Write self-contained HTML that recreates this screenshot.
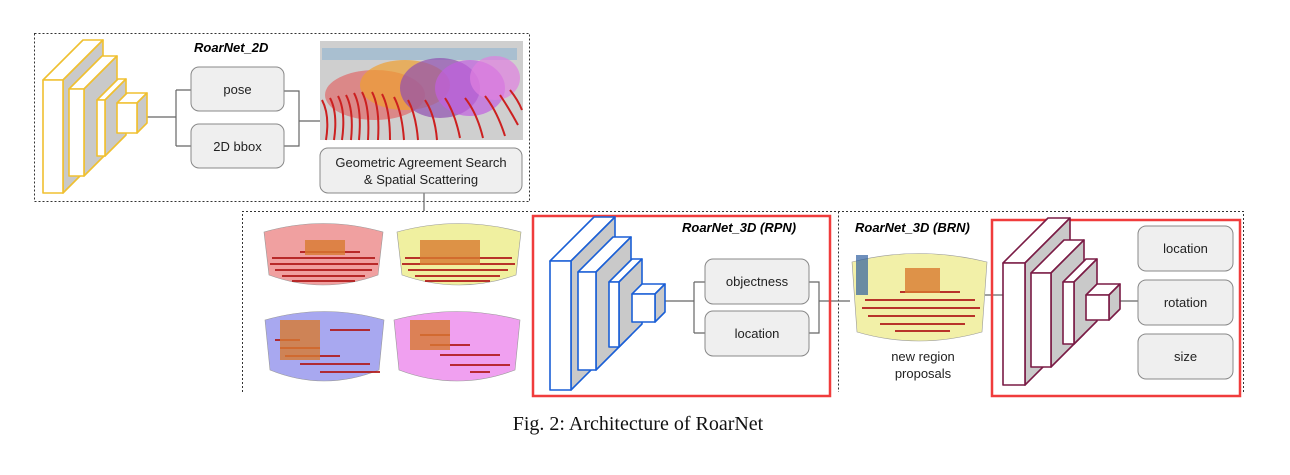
<!DOCTYPE html>
<html><head><meta charset="utf-8"><style>
html,body{margin:0;padding:0;background:#fff}
svg{display:block}
text{font-family:"Liberation Sans",sans-serif}
</style></head><body>
<svg width="1290" height="475" viewBox="0 0 1290 475" xmlns="http://www.w3.org/2000/svg">
<!-- dashed frames -->
<g fill="none" stroke="#333" stroke-width="1" stroke-dasharray="2,2">
<rect x="34.5" y="33.5" width="495" height="168"/>
<path d="M242.5,392 V211.5 H1243.5 V392"/>
<path d="M838.5,211.5 V392"/>
</g>
<!-- Top connectors -->
<g stroke="#666" stroke-width="1.2" fill="none">
<path d="M147,117 H176 M176,90 V146 M176,90 H191 M176,146 H191"/>
<path d="M284,91 H299 V146 H284 M299,121 H320"/>
<path d="M424,193 V211"/>
<path d="M665,301 H694 M694,282 V333 M694,282 H705 M694,333 H705"/>
<path d="M809,282 H819 V333 H809 M819,301 H850"/>
<path d="M985,295 H1003 M1120,301 H1141"/>
</g>
<!-- Yellow cuboids -->
<g stroke="#f0c030" stroke-width="1.6" stroke-linejoin="round">
<polygon points="43,80 83,40 103,40 63,80" fill="#fff"/><polygon points="63,80 103,40 103,153 63,193" fill="#c9c9c9"/><rect x="43" y="80" width="20" height="113" fill="#fff"/>
<polygon points="69,89 102,56 117,56 84,89" fill="#fff"/><polygon points="84,89 117,56 117,143 84,176" fill="#c9c9c9"/><rect x="69" y="89" width="15" height="87" fill="#fff"/>
<polygon points="97,100 118,79 126,79 105,100" fill="#fff"/><polygon points="105,100 126,79 126,135 105,156" fill="#c9c9c9"/><rect x="97" y="100" width="8" height="56" fill="#fff"/>
<polygon points="117,103 127,93 147,93 137,103" fill="#fff"/><polygon points="137,103 147,93 147,123 137,133" fill="#c9c9c9"/><rect x="117" y="103" width="20" height="30" fill="#fff"/>
</g>
<!-- Top boxes -->
<g fill="#efefef" stroke="#888" stroke-width="1">
<rect x="191" y="67" width="93" height="44" rx="8"/>
<rect x="191" y="124" width="93" height="44" rx="8"/>
<rect x="320" y="148" width="202" height="45" rx="8"/>
</g>
<text x="194" y="52" font-size="13" font-weight="bold" font-style="italic">RoarNet_2D</text>
<text x="237.5" y="94" font-size="13" text-anchor="middle" fill="#222">pose</text>
<text x="237.5" y="151" font-size="13" text-anchor="middle" fill="#222">2D bbox</text>
<text x="421" y="167" font-size="13" text-anchor="middle" fill="#222">Geometric Agreement Search</text>
<text x="421" y="184" font-size="13" text-anchor="middle" fill="#222">&amp; Spatial Scattering</text>
<!-- Top image -->
<g>
<rect x="320" y="41" width="203" height="99" fill="#cfcfcf"/>
<rect x="322" y="48" width="195" height="12" fill="#8fb4d0" opacity="0.6"/>
<ellipse cx="375" cy="95" rx="50" ry="25" fill="#e06a6a" opacity="0.7"/>
<ellipse cx="405" cy="85" rx="45" ry="25" fill="#f0a030" opacity="0.7"/>
<ellipse cx="440" cy="88" rx="40" ry="30" fill="#9050b0" opacity="0.7"/>
<ellipse cx="470" cy="88" rx="35" ry="28" fill="#c060e0" opacity="0.7"/>
<ellipse cx="495" cy="78" rx="25" ry="22" fill="#e080e0" opacity="0.7"/>
<g stroke="#cc2020" stroke-width="2" fill="none">
<path d="M322,100 q8,15 4,40 M330,98 q8,15 4,42 M338,96 q8,15 4,44 M346,95 q8,15 5,45 M354,93 q8,15 5,47 M362,92 q8,15 6,48 M372,92 q8,15 6,48 M382,94 q8,15 8,46 M394,97 q8,15 10,43 M408,100 q8,15 10,40 M425,100 q10,15 12,40 M445,98 q10,15 15,40 M465,98 q12,15 18,40 M485,96 q12,15 20,40 M500,95 q10,15 18,30 M510,90 q8,10 12,20"/>
</g>
</g>
<!-- Cylinders -->
<g stroke="#999" stroke-width="0.6">
<path d="M264,232 Q323,215 383,232 L378,275 Q323,295 269,275 Z" fill="#f0a0a0"/>
<path d="M397,232 Q459,215 521,232 L516,275 Q459,295 402,275 Z" fill="#f0f0a0"/>
<path d="M265,320 Q324,303 384,320 L379,370 Q324,392 270,370 Z" fill="#a8a8f0"/>
<path d="M394,320 Q457,303 520,320 L515,370 Q457,392 399,370 Z" fill="#f0a0f0"/>
<path d="M852,262 Q918,245 987,262 L982,332 Q918,350 857,332 Z" fill="#f2f0a8"/>
</g>
<g stroke="#b01818" stroke-width="1.8">
<path d="M272,258 H375 M270,264 H378 M275,270 H372 M282,276 H365 M292,281 H355 M300,252 H360"/>
<path d="M405,258 H512 M402,264 H515 M408,270 H508 M415,276 H500 M425,281 H490"/>
<path d="M275,340 H300 M280,348 H320 M285,356 H340 M300,364 H370 M320,372 H380 M330,330 H370"/>
<path d="M430,345 H470 M440,355 H500 M450,365 H510 M420,335 H450 M470,372 H490"/>
<path d="M865,300 H975 M862,308 H980 M868,316 H975 M880,324 H965 M895,331 H950 M900,292 H960"/>
</g>
<g fill="#d87a30" opacity="0.8">
<rect x="305" y="240" width="40" height="15"/>
<rect x="420" y="240" width="60" height="25"/>
<rect x="280" y="320" width="40" height="40"/>
<rect x="410" y="320" width="40" height="30"/>
<rect x="905" y="268" width="35" height="25"/>
</g>
<rect x="856" y="255" width="12" height="40" fill="#3060a0" opacity="0.7"/>
<!-- RPN red box -->
<rect x="533" y="216" width="297" height="180" fill="none" stroke="#f03c3c" stroke-width="2.5"/>
<g stroke="#1a5fd6" stroke-width="1.6" stroke-linejoin="round">
<polygon points="550,261 594,217 615,217 571,261" fill="#fff"/><polygon points="571,261 615,217 615,346 571,390" fill="#c9c9c9"/><rect x="550" y="261" width="21" height="129" fill="#fff"/>
<polygon points="578,272 613,237 631,237 596,272" fill="#fff"/><polygon points="596,272 631,237 631,335 596,370" fill="#c9c9c9"/><rect x="578" y="272" width="18" height="98" fill="#fff"/>
<polygon points="609,282 632,259 642,259 619,282" fill="#fff"/><polygon points="619,282 642,259 642,324 619,347" fill="#c9c9c9"/><rect x="609" y="282" width="10" height="65" fill="#fff"/>
<polygon points="632,294 642,284 665,284 655,294" fill="#fff"/><polygon points="655,294 665,284 665,312 655,322" fill="#c9c9c9"/><rect x="632" y="294" width="23" height="28" fill="#fff"/>
</g>
<g fill="#efefef" stroke="#888" stroke-width="1">
<rect x="705" y="259" width="104" height="45" rx="8"/>
<rect x="705" y="311" width="104" height="45" rx="8"/>
</g>
<text x="682" y="232" font-size="13" font-weight="bold" font-style="italic">RoarNet_3D (RPN)</text>
<text x="757" y="286" font-size="13" text-anchor="middle" fill="#222">objectness</text>
<text x="757" y="338" font-size="13" text-anchor="middle" fill="#222">location</text>
<!-- BRN -->
<text x="855" y="232" font-size="13" font-weight="bold" font-style="italic">RoarNet_3D (BRN)</text>
<text x="923" y="361" font-size="13" text-anchor="middle" fill="#222">new region</text>
<text x="923" y="378" font-size="13" text-anchor="middle" fill="#222">proposals</text>
<rect x="992" y="220" width="248" height="176" fill="none" stroke="#f03c3c" stroke-width="2.5"/>
<g stroke="#7a1b45" stroke-width="1.6" stroke-linejoin="round">
<polygon points="1003,263 1048,218 1070,218 1025,263" fill="#fff"/><polygon points="1025,263 1070,218 1070,340 1025,385" fill="#c9c9c9"/><rect x="1003" y="263" width="22" height="122" fill="#fff"/>
<polygon points="1031,273 1064,240 1084,240 1051,273" fill="#fff"/><polygon points="1051,273 1084,240 1084,334 1051,367" fill="#c9c9c9"/><rect x="1031" y="273" width="20" height="94" fill="#fff"/>
<polygon points="1063,282 1086,259 1097,259 1074,282" fill="#fff"/><polygon points="1074,282 1097,259 1097,321 1074,344" fill="#c9c9c9"/><rect x="1063" y="282" width="11" height="62" fill="#fff"/>
<polygon points="1086,295 1097,284 1120,284 1109,295" fill="#fff"/><polygon points="1109,295 1120,284 1120,309 1109,320" fill="#c9c9c9"/><rect x="1086" y="295" width="23" height="25" fill="#fff"/>
</g>
<g fill="#efefef" stroke="#888" stroke-width="1">
<rect x="1138" y="226" width="95" height="45" rx="8"/>
<rect x="1138" y="280" width="95" height="45" rx="8"/>
<rect x="1138" y="334" width="95" height="45" rx="8"/>
</g>
<text x="1185.5" y="253" font-size="13" text-anchor="middle" fill="#222">location</text>
<text x="1185.5" y="307" font-size="13" text-anchor="middle" fill="#222">rotation</text>
<text x="1185.5" y="361" font-size="13" text-anchor="middle" fill="#222">size</text>
<!-- caption -->
<text x="638" y="430" font-size="20" text-anchor="middle" fill="#111" style="font-family:'Liberation Serif',serif">Fig. 2: Architecture of RoarNet</text>
</svg>
</body></html>
